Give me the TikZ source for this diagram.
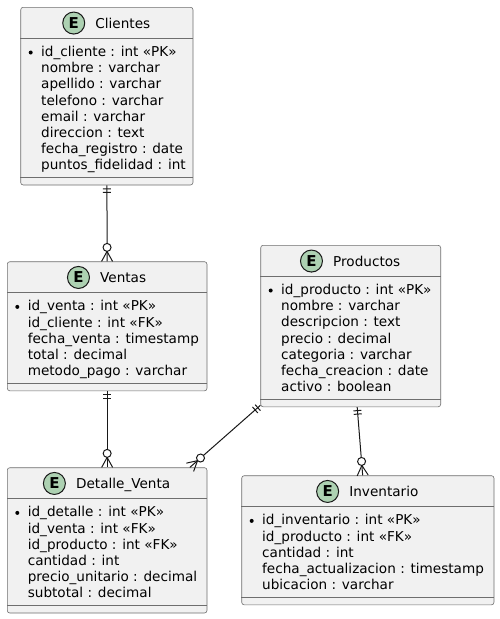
\documentclass[tikz,border=0pt]{standalone}
\usepackage{fontspec}
\setmainfont{DejaVu Sans}
\usetikzlibrary{positioning,decorations.markings}

\definecolor{boxfill}{HTML}{F1F1F1}
\definecolor{boxline}{HTML}{181818}
\definecolor{boxedge}{HTML}{6E6E6E}
\definecolor{spotfill}{HTML}{ADD1B2}

\tikzset{
  entity/.style={draw=boxedge, line width=0.6pt, fill=boxfill, rounded corners=2.5pt, inner sep=0pt},
  divider/.style={draw=boxedge, line width=0.6pt},
  enttitle/.style={anchor=base, inner sep=0pt, text height=10.5pt, text depth=0pt,
    font=\fontsize{13.6}{16.2}\selectfont},
  spot/.style={circle, draw=boxline, line width=1pt, fill=spotfill, minimum size=22pt, inner sep=0pt,
    font=\fontsize{15}{15}\selectfont\bfseries},
  attrs/.style={anchor=base west, inner sep=0pt, font=\fontsize{13.6}{16.2}\selectfont},
  relation/.style={draw=boxline, line width=1pt, postaction={decorate},
    decoration={markings,
      mark=at position 3.5pt with {\draw (0pt,-4pt) -- (0pt,4pt);},
      mark=at position 7pt with {\draw (0pt,-4pt) -- (0pt,4pt);},
      mark=at position -14pt with {\draw[fill=white] (0pt,0pt) circle (4pt);},
      mark=at position -10pt with {\draw (0pt,0pt) -- (10pt,5.5pt) (0pt,0pt) -- (10pt,-5.5pt);}}},
}

\begin{document}
\begin{tikzpicture}[x=1pt, y=-1pt]
  \useasboundingbox (0,0) rectangle (500,619);

  \begin{scope}[every node/.style={entity}]
    \node[minimum width=172.3pt, minimum height=177.7pt] (clientes)   at (106.85,96.15)  {};
    \node[minimum width=199.7pt, minimum height=129.1pt] (ventas)     at (107.15,326.25) {};
    \node[minimum width=180pt,   minimum height=161.5pt] (productos)  at (350.7,326.05)  {};
    \node[minimum width=199.7pt, minimum height=145.3pt] (detalle)    at (107.15,540.35) {};
    \node[minimum width=252.3pt, minimum height=129.1pt] (inventario) at (367.85,540.25) {};
  \end{scope}

  \foreach \e in {clientes,ventas,productos,detalle,inventario} {
    \draw[divider] ([yshift=-31.3pt]\e.north west) -- ([yshift=-31.3pt]\e.north east);
    \draw[divider] ([yshift=7.7pt]\e.south west) -- ([yshift=7.7pt]\e.south east);
  }

  \begin{scope}[every node/.style={enttitle}]
    \node (title-clientes)   at ([xshift=16pt, yshift=-21.3pt]clientes.north)   {Clientes};
    \node (title-ventas)     at ([xshift=16pt, yshift=-21.3pt]ventas.north)     {Ventas};
    \node (title-productos)  at ([xshift=16pt, yshift=-21.3pt]productos.north)  {Productos};
    \node (title-detalle)    at ([xshift=16pt, yshift=-21.3pt]detalle.north)    {Detalle\_Venta};
    \node (title-inventario) at ([xshift=16pt, yshift=-21.3pt]inventario.north) {Inventario};
  \end{scope}

  \begin{scope}[every node/.style={spot}]
    \node[left=10pt of title-clientes]   (spot-clientes)   {E};
    \node[left=10pt of title-ventas]     (spot-ventas)     {E};
    \node[left=10pt of title-productos]  (spot-productos)  {E};
    \node[left=10pt of title-detalle]    (spot-detalle)    {E};
    \node[left=10pt of title-inventario] (spot-inventario) {E};
  \end{scope}

  \begin{scope}[every node/.style={attrs}]
    \node (attr-clientes) at ([xshift=20.6pt, yshift=-49.5pt]clientes.north west)
      {\begin{tabular}[t]{@{}l@{}}
        id\_cliente : int «PK»\\ nombre : varchar\\ apellido : varchar\\ telefono : varchar\\
        email : varchar\\ direccion : text\\ fecha\_registro : date\\ puntos\_fidelidad : int
      \end{tabular}};
    \node (attr-ventas) at ([xshift=20.6pt, yshift=-49.5pt]ventas.north west)
      {\begin{tabular}[t]{@{}l@{}}
        id\_venta : int «PK»\\ id\_cliente : int «FK»\\ fecha\_venta : timestamp\\
        total : decimal\\ metodo\_pago : varchar
      \end{tabular}};
    \node (attr-productos) at ([xshift=20.6pt, yshift=-49.5pt]productos.north west)
      {\begin{tabular}[t]{@{}l@{}}
        id\_producto : int «PK»\\ nombre : varchar\\ descripcion : text\\ precio : decimal\\
        categoria : varchar\\ fecha\_creacion : date\\ activo : boolean
      \end{tabular}};
    \node (attr-detalle) at ([xshift=20.6pt, yshift=-49.5pt]detalle.north west)
      {\begin{tabular}[t]{@{}l@{}}
        id\_detalle : int «PK»\\ id\_venta : int «FK»\\ id\_producto : int «FK»\\ cantidad : int\\
        precio\_unitario : decimal\\ subtotal : decimal
      \end{tabular}};
    \node (attr-inventario) at ([xshift=20.6pt, yshift=-49.5pt]inventario.north west)
      {\begin{tabular}[t]{@{}l@{}}
        id\_inventario : int «PK»\\ id\_producto : int «FK»\\ cantidad : int\\
        fecha\_actualizacion : timestamp\\ ubicacion : varchar
      \end{tabular}};
  \end{scope}

  % mandatory key markers
  \foreach \e in {clientes,ventas,productos,detalle,inventario}
    \fill[black] ([xshift=-10.3pt, yshift=4pt]attr-\e.base west) circle (2pt);

  \begin{scope}[every edge/.style={relation}]
    \path (clientes)  edge (ventas);
    \path (ventas)    edge (detalle);
    \path (productos) edge (detalle);
    \path (productos) edge (inventario);
  \end{scope}

\end{tikzpicture}
\end{document}
